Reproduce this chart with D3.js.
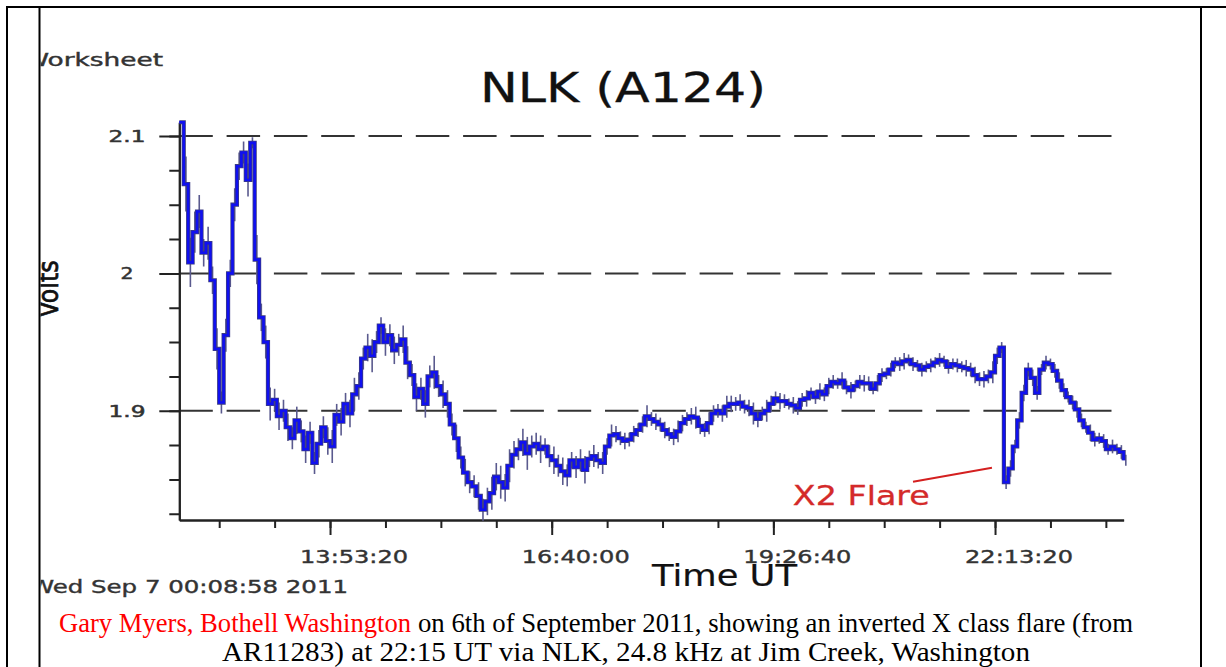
<!DOCTYPE html>
<html>
<head>
<meta charset="utf-8">
<title>NLK (A124)</title>
<script src="https://cdn.jsdelivr.net/npm/d3@7"></script>
<style>
    html, body { margin: 0; padding: 0; background: #fff; }
    svg { display: block; }
</style>
</head>
<body>
<div id="chart"></div>
<script>
// Samples, one every 200 s starting 12:00:00 UT
var startSeconds  = 43200;
var sampleSeconds = 200;
var voltValues = [
    2.110, 2.065, 2.008, 2.030, 2.045, 2.015, 2.022, 1.995, 1.945, 1.906,
    1.955, 2.000, 2.050, 2.078, 2.088, 2.068, 2.095, 2.010, 1.968, 1.950,
    1.905, 1.908, 1.896, 1.900, 1.888, 1.880, 1.893, 1.885, 1.872, 1.884,
    1.862, 1.876, 1.888, 1.878, 1.874, 1.897, 1.892, 1.905, 1.898, 1.912,
    1.918, 1.938, 1.946, 1.940, 1.950, 1.962, 1.950, 1.955, 1.944, 1.948,
    1.952, 1.935, 1.926, 1.910, 1.916, 1.905, 1.925, 1.928, 1.918, 1.912,
    1.905, 1.890, 1.880, 1.866, 1.855, 1.848, 1.845, 1.838, 1.828, 1.834,
    1.840, 1.852, 1.848, 1.844, 1.860, 1.868, 1.872, 1.877, 1.869, 1.874,
    1.876, 1.872, 1.874, 1.867, 1.864, 1.860, 1.856, 1.853, 1.864, 1.859,
    1.864, 1.857, 1.865, 1.867, 1.864, 1.862, 1.874, 1.882, 1.883, 1.880,
    1.878, 1.879, 1.883, 1.886, 1.890, 1.896, 1.894, 1.892, 1.890, 1.886,
    1.883, 1.881, 1.885, 1.891, 1.894, 1.896, 1.895, 1.889, 1.886, 1.891,
    1.898, 1.900, 1.898, 1.903, 1.905, 1.905, 1.906, 1.903, 1.902, 1.898,
    1.894, 1.898, 1.900, 1.905, 1.909, 1.907, 1.907, 1.905, 1.904, 1.902,
    1.908, 1.909, 1.913, 1.910, 1.914, 1.912, 1.918, 1.921, 1.920, 1.922,
    1.917, 1.915, 1.918, 1.921, 1.920, 1.920, 1.916, 1.920, 1.926, 1.927,
    1.930, 1.935, 1.934, 1.936, 1.937, 1.934, 1.933, 1.930, 1.932, 1.933,
    1.935, 1.937, 1.936, 1.932, 1.934, 1.933, 1.932, 1.931, 1.930, 1.926,
    1.923, 1.923, 1.925, 1.928, 1.940, 1.946, 1.848, 1.858, 1.874, 1.893,
    1.913, 1.930, 1.924, 1.913, 1.930, 1.935, 1.934, 1.929, 1.922, 1.915,
    1.910, 1.906, 1.901, 1.893, 1.888, 1.884, 1.879, 1.880, 1.878, 1.872,
    1.874, 1.872, 1.870, 1.864
];
// Half-height of the fast jitter around each sample (volts)
var voltSpread = [
    0.000, 0.020, 0.018, 0.015, 0.012, 0.010, 0.012, 0.010, 0.015, 0.008,
    0.012, 0.010, 0.012, 0.010, 0.008, 0.012, 0.004, 0.018, 0.010, 0.012,
    0.012, 0.008, 0.010, 0.008, 0.010, 0.008, 0.010, 0.008, 0.010, 0.008,
    0.008, 0.010, 0.008, 0.010, 0.012, 0.008, 0.010, 0.008, 0.010, 0.012,
    0.010, 0.008, 0.010, 0.012, 0.008, 0.006, 0.010, 0.008, 0.010, 0.008,
    0.010, 0.012, 0.008, 0.010, 0.008, 0.010, 0.008, 0.012, 0.008, 0.010,
    0.010, 0.008, 0.010, 0.008, 0.010, 0.008, 0.008, 0.010, 0.008, 0.010,
    0.012, 0.010, 0.012, 0.010, 0.012, 0.010, 0.008, 0.010, 0.012, 0.008,
    0.008, 0.010, 0.006, 0.008, 0.010, 0.008, 0.010, 0.008, 0.006, 0.008,
    0.008, 0.010, 0.006, 0.008, 0.006, 0.008, 0.006, 0.008, 0.006, 0.005,
    0.006, 0.005, 0.006, 0.005, 0.006, 0.008, 0.005, 0.006, 0.005, 0.006,
    0.005, 0.006, 0.008, 0.006, 0.005, 0.006, 0.008, 0.006, 0.005, 0.008,
    0.006, 0.005, 0.006, 0.008, 0.006, 0.005, 0.006, 0.005, 0.006, 0.008,
    0.006, 0.005, 0.008, 0.006, 0.005, 0.006, 0.005, 0.004, 0.006, 0.005,
    0.005, 0.006, 0.004, 0.005, 0.006, 0.005, 0.006, 0.005, 0.004, 0.006,
    0.005, 0.006, 0.004, 0.005, 0.006, 0.005, 0.004, 0.006, 0.005, 0.004,
    0.005, 0.004, 0.005, 0.006, 0.004, 0.005, 0.004, 0.005, 0.004, 0.005,
    0.004, 0.005, 0.004, 0.005, 0.004, 0.005, 0.004, 0.006, 0.005, 0.006,
    0.005, 0.006, 0.005, 0.008, 0.006, 0.004, 0.005, 0.006, 0.005, 0.006,
    0.006, 0.005, 0.006, 0.005, 0.004, 0.005, 0.004, 0.005, 0.006, 0.005,
    0.004, 0.005, 0.006, 0.005, 0.004, 0.006, 0.005, 0.004, 0.005, 0.004,
    0.005, 0.004, 0.005, 0.004
];

var timeDomain       = [43200, 85800];
var voltDomain       = [1.8205, 2.11];
var majorTickSeconds = [50000, 60000, 70000, 80000];
var majorTickLabels  = ['13:53:20', '16:40:00', '19:26:40', '22:13:20'];
var yTickValues      = [2.1, 2.0, 1.9];
var yTickLabels      = ['2.1', '2', '1.9'];

// Flare annotation: pointer from label to the dip
var flarePointer = [[76300, 1.8484], [79860, 1.8585]];
var flareLabelAt = [70880, 1.8316];

(function () {'use strict';

    var W = 1226,
        H = 667,
        plot = { left: 179.3, right: 1123.6, top: 122.25, bottom: 520 },
        axisColor = '#222',
        labelColor = '#333';

    var x = d3.scaleLinear().domain(timeDomain).range([plot.left, plot.right]),
        y = d3.scaleLinear().domain(voltDomain).range([plot.bottom, plot.top]);

    var svg = d3.select('#chart')
        .append('svg')
            .attr('width', W)
            .attr('height', H);

    svg.append('rect')
        .attr('width', W)
        .attr('height', H)
        .attr('fill', '#fff');

    // Table cell borders
    svg.append('clipPath')
        .attr('id', 'cell')
        .append('rect')
            .attr('x', 40.5)
            .attr('y', 8)
            .attr('width', 1159.5)
            .attr('height', H);

    var borders = [
        [6, 7, W, 7],
        [7, 6, 7, H],
        [39.5, 7, 39.5, H],
        [1201, 7, 1201, H]
    ];
    svg.selectAll('line.border')
        .data(borders)
        .enter().append('line')
            .attr('class', 'border')
            .attr('x1', function (d) { return d[0]; })
            .attr('y1', function (d) { return d[1]; })
            .attr('x2', function (d) { return d[2]; })
            .attr('y2', function (d) { return d[3]; })
            .attr('stroke', '#000')
            .attr('stroke-width', 2);

    var chart = svg.append('g')
        .attr('clip-path', 'url(#cell)')
        .attr('font-family', '"DejaVu Sans", Verdana, sans-serif');

    // small helper so the scanned-looking labels get a bit of weight
    function heavy(sel, color, w) {
        return sel.attr('fill', color)
            .attr('stroke', color)
            .attr('stroke-width', w);
    }

    /*
     * HEADINGS
     */
    heavy(chart.append('text'), labelColor, 0.4)
        .attr('x', 23)
        .attr('y', 66)
        .attr('font-size', 17.5)
        .attr('textLength', 140)
        .attr('lengthAdjust', 'spacingAndGlyphs')
        .text('Worksheet');

    heavy(chart.append('text'), '#111', 0.3)
        .attr('x', 480)
        .attr('y', 102)
        .attr('font-size', 41)
        .attr('textLength', 286)
        .attr('lengthAdjust', 'spacingAndGlyphs')
        .text('NLK (A124)');

    heavy(chart.append('text'), '#111', 0.5)
        .attr('transform', 'translate(58,289) scale(1.45,1) rotate(-90)')
        .attr('text-anchor', 'middle')
        .attr('font-size', 19)
        .attr('textLength', 57)
        .attr('lengthAdjust', 'spacingAndGlyphs')
        .text('Volts');

    heavy(chart.append('text'), labelColor, 0.4)
        .attr('x', 30)
        .attr('y', 593)
        .attr('font-size', 18)
        .attr('textLength', 318)
        .attr('lengthAdjust', 'spacingAndGlyphs')
        .text('Wed Sep 7 00:08:58 2011');

    heavy(chart.append('text'), '#111', 0.2)
        .attr('x', 652)
        .attr('y', 586)
        .attr('font-size', 30)
        .attr('textLength', 145)
        .attr('lengthAdjust', 'spacingAndGlyphs')
        .text('Time UT');

    /*
     * GRID
     */
    chart.selectAll('line.grid')
        .data(yTickValues)
        .enter().append('line')
            .attr('class', 'grid')
            .attr('x1', plot.left)
            .attr('x2', 1113)
            .attr('y1', function (d) { return y(d); })
            .attr('y2', function (d) { return y(d); })
            .attr('stroke', '#333')
            .attr('stroke-width', 2)
            .attr('stroke-dasharray', '33.5,13.8');

    /*
     * AXES
     */
    var xAxisMinor = d3.axisBottom(x)
            .tickValues(d3.range(45000, 85001, 2500))
            .tickSize(8).tickSizeOuter(0).tickFormat(''),
        xAxisMajor = d3.axisBottom(x)
            .tickValues(majorTickSeconds)
            .tickSize(15).tickSizeOuter(0).tickFormat(''),
        yAxisMinor = d3.axisLeft(y)
            .tickValues(d3.range(1.825, 2.1, 0.025))
            .tickSize(10).tickSizeOuter(0).tickFormat(''),
        yAxisMajor = d3.axisLeft(y)
            .tickValues(yTickValues)
            .tickSize(20).tickSizeOuter(0).tickFormat('');

    [xAxisMinor, xAxisMajor].forEach(function (axis) {
        chart.append('g')
            .attr('class', 'x axis')
            .attr('transform', 'translate(0,' + plot.bottom + ')')
            .call(axis);
    });
    [yAxisMinor, yAxisMajor].forEach(function (axis) {
        chart.append('g')
            .attr('class', 'y axis')
            .attr('transform', 'translate(' + plot.left + ',0)')
            .call(axis);
    });
    chart.selectAll('.axis path, .axis line')
        .attr('stroke', axisColor)
        .attr('stroke-width', 2);

    heavy(chart.selectAll('text.xlabel')
        .data(majorTickSeconds)
        .enter().append('text'), labelColor, 0.4)
            .attr('class', 'xlabel')
            .attr('x', function (d) { return x(d) + 24; })
            .attr('y', 563)
            .attr('text-anchor', 'middle')
            .attr('font-size', 18)
            .attr('textLength', 108)
            .attr('lengthAdjust', 'spacingAndGlyphs')
            .text(function (d, i) { return majorTickLabels[i]; });

    heavy(chart.selectAll('text.ylabel')
        .data(yTickValues)
        .enter().append('text'), labelColor, 0.5)
            .attr('class', 'ylabel')
            .attr('x', 127)
            .attr('y', function (d) { return y(d) + 6; })
            .attr('text-anchor', 'middle')
            .attr('font-size', 16)
            .attr('textLength', function (d, i) { return yTickLabels[i].length > 1 ? 37 : 13; })
            .attr('lengthAdjust', 'spacingAndGlyphs')
            .text(function (d, i) { return yTickLabels[i]; });

    /*
     * SIGNAL
     */
    var samples = voltValues.map(function (v, i) {
        return [startSeconds + i * sampleSeconds, v, voltSpread[i]];
    });
    var halfStep = (x(startSeconds + sampleSeconds) - x(startSeconds)) / 2;

    // jitter spikes behind the trace
    chart.selectAll('line.jitter')
        .data(samples)
        .enter().append('line')
            .attr('class', 'jitter')
            .attr('x1', function (d) { return x(d[0]) + halfStep; })
            .attr('x2', function (d) { return x(d[0]) + halfStep; })
            .attr('y1', function (d) { return y(d[1] - d[2]); })
            .attr('y2', function (d) { return y(d[1] + d[2]); })
            .attr('stroke', '#5a5a8e')
            .attr('stroke-width', 1.6);

    var line = d3.line()
        .curve(d3.curveStepAfter)
        .x(function (d) { return x(d[0]); })
        .y(function (d) { return y(d[1]); });

    chart.append('path')
        .attr('d', line(samples))
        .attr('fill', 'none')
        .attr('stroke', '#3c3c80')
        .attr('stroke-width', 4.2);

    chart.append('path')
        .attr('d', line(samples))
        .attr('fill', 'none')
        .attr('stroke', '#1010f0')
        .attr('stroke-width', 2.6);

    /*
     * FLARE ANNOTATION
     */
    chart.append('path')
        .attr('d', d3.line()
            .x(function (d) { return x(d[0]); })
            .y(function (d) { return y(d[1]); })(flarePointer))
        .attr('stroke', '#d42020')
        .attr('stroke-width', 2)
        .attr('fill', 'none');

    heavy(chart.append('text'), '#d42a2a', 0.3)
        .attr('x', x(flareLabelAt[0]))
        .attr('y', y(flareLabelAt[1]))
        .attr('font-size', 27)
        .attr('textLength', 137)
        .attr('lengthAdjust', 'spacingAndGlyphs')
        .text('X2 Flare');

    /*
     * CAPTION
     */
    var caption = svg.append('g')
        .attr('font-family', '"Liberation Serif", "Times New Roman", serif')
        .attr('font-size', 27);

    caption.append('text')
        .attr('x', 59)
        .attr('y', 632)
        .attr('fill', '#ff0000')
        .attr('textLength', 352)
        .attr('lengthAdjust', 'spacingAndGlyphs')
        .text('Gary Myers, Bothell Washington');

    caption.append('text')
        .attr('x', 418)
        .attr('y', 632)
        .attr('fill', '#000')
        .attr('textLength', 715)
        .attr('lengthAdjust', 'spacingAndGlyphs')
        .text('on 6th of September 2011, showing an inverted X class flare (from');

    caption.append('text')
        .attr('x', 222)
        .attr('y', 661)
        .attr('fill', '#000')
        .attr('textLength', 808)
        .attr('lengthAdjust', 'spacingAndGlyphs')
        .text('AR11283) at 22:15 UT via NLK, 24.8 kHz at Jim Creek, Washington');

})();
</script>
</body>
</html>
